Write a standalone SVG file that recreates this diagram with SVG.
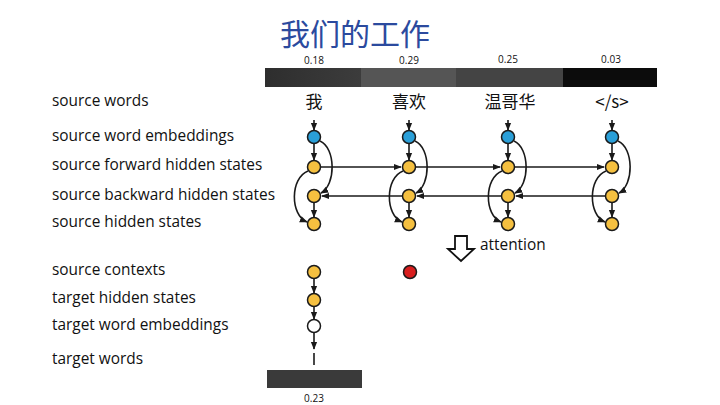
<svg xmlns="http://www.w3.org/2000/svg" width="720" height="405" viewBox="0 0 720 405">
<defs>
<style>
.lbl{font-family:"Open Sans","Liberation Sans",sans-serif;font-size:15.4px;fill:#111}
.num{font-family:"Open Sans","Liberation Sans",sans-serif;font-size:10px;fill:#111;text-anchor:middle}
.word{font-family:"Noto Sans CJK SC","Open Sans",sans-serif;font-size:17px;fill:#111;text-anchor:middle}
.title{font-family:"Noto Sans CJK SC",sans-serif;font-size:30px;fill:#2b4a9e}
.blue{fill:#2a9fd8;stroke:#1a1a1a;stroke-width:1.5}
.yel{fill:#f5c040;stroke:#1a1a1a;stroke-width:1.5}
.red{fill:#d81e1e;stroke:#1a1a1a;stroke-width:1.5}
.wht{fill:#fff;stroke:#1a1a1a;stroke-width:1.5}
.ln{fill:none;stroke:#1a1a1a;stroke-width:1.6}
</style>
<marker id="ah" viewBox="0 0 10 10" refX="9" refY="5" markerWidth="5" markerHeight="5" orient="auto">
<path d="M0,1 L10,5 L0,9 z" fill="#1a1a1a"/>
</marker>
<linearGradient id="g1" x1="0" x2="1"><stop offset="0" stop-color="#2e2e2e"/><stop offset="1" stop-color="#3c3c3c"/></linearGradient>
</defs>
<rect width="720" height="405" fill="#fff"/>
<text class="title" x="280" y="44.5">我们的工作</text>

<g id="attention-bar">
<rect x="265" y="68" width="96" height="19" fill="url(#g1)"/>
<rect x="361" y="68" width="95" height="19" fill="#555"/>
<rect x="456" y="68" width="107" height="19" fill="#444"/>
<rect x="563" y="68" width="94" height="19" fill="#0c0c0c"/>
<text class="num" x="314" y="64">0.18</text>
<text class="num" x="409" y="64">0.29</text>
<text class="num" x="508" y="63">0.25</text>
<text class="num" x="611" y="63">0.03</text>
</g>

<g id="labels">
<text class="lbl" x="52" y="106">source words</text>
<text class="lbl" x="52" y="141">source word embeddings</text>
<text class="lbl" x="52" y="170">source forward hidden states</text>
<text class="lbl" x="52" y="200">source backward hidden states</text>
<text class="lbl" x="52" y="227">source hidden states</text>
<text class="lbl" x="52" y="275">source contexts</text>
<text class="lbl" x="52" y="303">target hidden states</text>
<text class="lbl" x="52" y="330">target word embeddings</text>
<text class="lbl" x="52" y="364">target words</text>
</g>

<g id="source-words">
<text class="word" x="314" y="108">我</text>
<text class="word" x="409" y="108">喜欢</text>
<text class="word" x="510" y="108">温哥华</text>
<text class="word" x="612" y="108">&lt;/s&gt;</text>
</g>

<g id="connectors">
<!-- column 1 -->
<line class="ln" x1="314" y1="120" x2="314" y2="130" marker-end="url(#ah)"/>
<line class="ln" x1="314" y1="144" x2="314" y2="160" marker-end="url(#ah)"/>
<line class="ln" x1="314" y1="203" x2="314" y2="217" marker-end="url(#ah)"/>
<path class="ln" d="M320,141 C336,148 336,185 321,193" marker-end="url(#ah)"/>
<path class="ln" d="M308,171 C290,178 290,215 307,222" marker-end="url(#ah)"/>
<!-- column 2 -->
<line class="ln" x1="409" y1="120" x2="409" y2="130" marker-end="url(#ah)"/>
<line class="ln" x1="409" y1="144" x2="409" y2="160" marker-end="url(#ah)"/>
<line class="ln" x1="409" y1="203" x2="409" y2="217" marker-end="url(#ah)"/>
<path class="ln" d="M415,141 C431,148 431,185 416,193" marker-end="url(#ah)"/>
<path class="ln" d="M403,171 C385,178 385,215 402,222" marker-end="url(#ah)"/>
<!-- column 3 -->
<line class="ln" x1="508" y1="120" x2="508" y2="130" marker-end="url(#ah)"/>
<line class="ln" x1="508" y1="144" x2="508" y2="160" marker-end="url(#ah)"/>
<line class="ln" x1="508" y1="203" x2="508" y2="217" marker-end="url(#ah)"/>
<path class="ln" d="M514,141 C530,148 530,185 515,193" marker-end="url(#ah)"/>
<path class="ln" d="M502,171 C484,178 484,215 501,222" marker-end="url(#ah)"/>
<!-- column 4 -->
<line class="ln" x1="612" y1="120" x2="612" y2="130" marker-end="url(#ah)"/>
<line class="ln" x1="612" y1="144" x2="612" y2="160" marker-end="url(#ah)"/>
<line class="ln" x1="612" y1="203" x2="612" y2="217" marker-end="url(#ah)"/>
<path class="ln" d="M618,141 C634,148 634,185 619,193" marker-end="url(#ah)"/>
<path class="ln" d="M606,171 C588,178 588,215 605,222" marker-end="url(#ah)"/>
<!-- forward chain -->
<line class="ln" x1="321" y1="167" x2="401" y2="167" marker-end="url(#ah)"/>
<line class="ln" x1="416" y1="167" x2="500" y2="167" marker-end="url(#ah)"/>
<line class="ln" x1="515" y1="167" x2="604" y2="167" marker-end="url(#ah)"/>
<!-- backward chain -->
<line class="ln" x1="605" y1="196" x2="516" y2="196" marker-end="url(#ah)"/>
<line class="ln" x1="501" y1="196" x2="417" y2="196" marker-end="url(#ah)"/>
<line class="ln" x1="402" y1="196" x2="322" y2="196" marker-end="url(#ah)"/>
<!-- target side -->
<line class="ln" x1="314" y1="279" x2="314" y2="293" marker-end="url(#ah)"/>
<line class="ln" x1="314" y1="307" x2="314" y2="319" marker-end="url(#ah)"/>
<line class="ln" x1="314" y1="333" x2="314" y2="349" marker-end="url(#ah)"/>
<line class="ln" x1="314" y1="353" x2="314" y2="365"/>
</g>

<g id="nodes">
<circle class="blue" cx="314" cy="137" r="6.5"/>
<circle class="blue" cx="409" cy="137" r="6.5"/>
<circle class="blue" cx="508" cy="137" r="6.5"/>
<circle class="blue" cx="612" cy="137" r="6.5"/>
<circle class="yel" cx="314" cy="167" r="6.5"/>
<circle class="yel" cx="409" cy="167" r="6.5"/>
<circle class="yel" cx="508" cy="167" r="6.5"/>
<circle class="yel" cx="612" cy="167" r="6.5"/>
<circle class="yel" cx="314" cy="196" r="6.5"/>
<circle class="yel" cx="409" cy="196" r="6.5"/>
<circle class="yel" cx="508" cy="196" r="6.5"/>
<circle class="yel" cx="612" cy="196" r="6.5"/>
<circle class="yel" cx="314" cy="224" r="6.5"/>
<circle class="yel" cx="409" cy="224" r="6.5"/>
<circle class="yel" cx="508" cy="224" r="6.5"/>
<circle class="yel" cx="612" cy="224" r="6.5"/>
<circle class="yel" cx="314" cy="272" r="6.5"/>
<circle class="red" cx="410" cy="272" r="6.5"/>
<circle class="yel" cx="314" cy="300" r="6.5"/>
<circle class="wht" cx="314" cy="326" r="6.5"/>
</g>

<g id="attention">
<path d="M455,236 H467 V249 H474 L461,261 L448,249 H455 Z" fill="#fff" stroke="#111" stroke-width="1.8"/>
<text class="lbl" x="480" y="250">attention</text>
</g>

<g id="target-bar">
<rect x="267" y="370" width="95" height="18" fill="#3a3a3a"/>
<text class="num" x="314" y="402">0.23</text>
</g>
</svg>
